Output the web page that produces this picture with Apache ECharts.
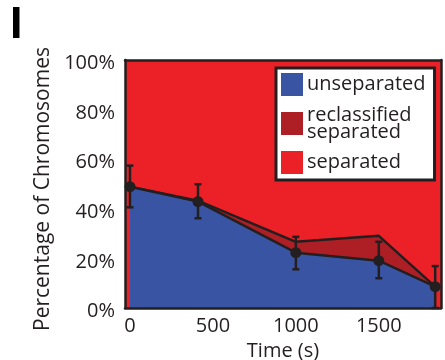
<!DOCTYPE html>
<html>
<head>
<meta charset="utf-8">
<script src="https://cdn.jsdelivr.net/npm/echarts@6/dist/echarts.min.js"></script>
<style>
  html, body { margin: 0; padding: 0; background: #fff; }
  #chart { width: 445px; height: 360px; }
</style>
</head>
<body>
<div id="chart"></div>
<script>
// time points (s) and percentages
var times = [0, 410, 1000, 1500, 1840];
var unseparated = [48.9, 42.9, 22.3, 19.1, 8.6];
var reclassified = [0, 0.4, 4.4, 10.0, 0];
var errLow = [40.6, 36.2, 15.6, 12.0, 0];
var errHigh = [57.4, 49.9, 28.7, 26.7, 16.9];
var xTicks = [0, 500, 1000, 1500];

var BLUE = '#3A54A4', DARKRED = '#AD1F24', RED = '#EC2127', INK = '#231F20';
var FONT = '"Open Sans", sans-serif';

// cumulative tops of each band (drawn back to front, each filled down to 0)
var separated = unseparated.map(function (v, i) { return 100 - v - reclassified[i]; });
var topReclass = unseparated.map(function (v, i) { return v + reclassified[i]; });
var topSeparated = topReclass.map(function (v, i) { return v + separated[i]; });

function pairs(vals) {
    return vals.map(function (v, i) { return [times[i], v]; });
}

var errData = times.map(function (t, i) { return [t, unseparated[i], errLow[i], errHigh[i]]; });

var chartDom = document.getElementById('chart');
var myChart = echarts.init(chartDom);

var option = {
    animation: false,
    graphic: [{
        type: 'text',
        left: 10,
        top: 3,
        style: { text: 'I', font: 'bold 45px "Liberation Sans", Arial, sans-serif', fill: '#000' }
    }],
    grid: {
        left: 125,
        right: 4,
        top: 60,
        bottom: 52,
        outerBoundsMode: 'none',
        show: true,
        backgroundColor: RED,
        borderWidth: 0
    },
    legend: {
        left: 276,
        top: 68,
        orient: 'vertical',
        padding: [5, 9, 6, 5],
        backgroundColor: '#fff',
        borderColor: INK,
        borderWidth: 3,
        borderRadius: 0,
        itemWidth: 22,
        itemHeight: 23,
        itemGap: 9,
        selectedMode: false,
        textStyle: { fontFamily: FONT, fontSize: 20, lineHeight: 17, color: INK, padding: [0, 0, 0, -1] },
        data: [
            { name: 'unseparated', icon: 'rect', itemStyle: { color: BLUE, borderWidth: 0 } },
            { name: 'reclassified\nseparated', icon: 'rect', itemStyle: { color: DARKRED, borderWidth: 0 } },
            { name: 'separated', icon: 'rect', itemStyle: { color: RED, borderWidth: 0 } }
        ],
        z: 20
    },
    xAxis: [{
        type: 'value',
        min: -30,
        max: 1875,
        z: 10,
        splitLine: { show: false },
        axisTick: { show: false },
        axisLine: { show: true, onZero: false, lineStyle: { color: INK, width: 2.5 } },
        axisLabel: {
            customValues: xTicks,
            formatter: function (v) { return String(v); },
            margin: 8, fontFamily: FONT, fontSize: 20, color: INK
        },
        name: 'Time (s)',
        nameLocation: 'middle',
        nameGap: 22,
        nameTextStyle: { fontFamily: FONT, fontSize: 20, color: INK }
    }, {
        type: 'value',
        position: 'top',
        min: -30,
        max: 1875,
        z: 10,
        splitLine: { show: false },
        axisTick: { show: false },
        axisLabel: { show: false },
        axisLine: { show: true, onZero: false, lineStyle: { color: INK, width: 2.5 } }
    }],
    yAxis: [{
        type: 'value',
        min: 0,
        max: 100,
        interval: 20,
        z: 10,
        splitLine: { show: false },
        axisTick: { show: false },
        axisLine: { show: true, onZero: false, lineStyle: { color: INK, width: 2.5 } },
        axisLabel: {
            // rich padding nudges the labels a few px down, like the reference
            formatter: function (v) { return '{p|' + v + '%}'; },
            margin: 10,
            rich: { p: { padding: [7, 0, 0, 0], fontFamily: FONT, fontSize: 20, color: INK } }
        },
        name: 'Percentage of Chromosomes',
        nameLocation: 'middle',
        nameGap: 48,
        nameTextStyle: { fontFamily: FONT, fontSize: 21, color: INK, padding: [0, 10, 0, 0] }
    }, {
        type: 'value',
        position: 'right',
        min: 0,
        max: 100,
        z: 10,
        splitLine: { show: false },
        axisTick: { show: false },
        axisLabel: { show: false },
        axisLine: { show: true, onZero: false, lineStyle: { color: INK, width: 2.5 } }
    }],
    series: [{
        name: 'separated',
        type: 'line',
        data: pairs(topSeparated),
        showSymbol: false,
        color: RED,
        lineStyle: { width: 0 },
        areaStyle: { color: RED, opacity: 1 },
        z: 2
    }, {
        name: 'reclassified\nseparated',
        type: 'line',
        data: pairs(topReclass),
        showSymbol: false,
        color: DARKRED,
        lineStyle: { color: INK, width: 2.5 },
        areaStyle: { color: DARKRED, opacity: 1 },
        z: 3
    }, {
        name: 'unseparated',
        type: 'line',
        data: pairs(unseparated),
        showSymbol: false,
        color: BLUE,
        lineStyle: { color: INK, width: 2.5 },
        areaStyle: { color: BLUE, opacity: 1 },
        z: 4
    }, {
        type: 'custom',
        data: errData,
        z: 6,
        renderItem: function (params, api) {
            var pt = api.coord([api.value(0), api.value(1)]);
            var lo = api.coord([api.value(0), api.value(2)]);
            var hi = api.coord([api.value(0), api.value(3)]);
            var cap = 3.5;
            var st = { stroke: INK, lineWidth: 2.5 };
            return {
                type: 'group',
                children: [
                    { type: 'line', shape: { x1: pt[0], y1: lo[1], x2: pt[0], y2: hi[1] }, style: st },
                    { type: 'line', shape: { x1: pt[0] - cap, y1: lo[1], x2: pt[0] + cap, y2: lo[1] }, style: st },
                    { type: 'line', shape: { x1: pt[0] - cap, y1: hi[1], x2: pt[0] + cap, y2: hi[1] }, style: st },
                    { type: 'circle', shape: { cx: pt[0], cy: pt[1], r: 5.5 }, style: { fill: INK } }
                ]
            };
        }
    }]
};

myChart.setOption(option);
</script>
</body>
</html>
